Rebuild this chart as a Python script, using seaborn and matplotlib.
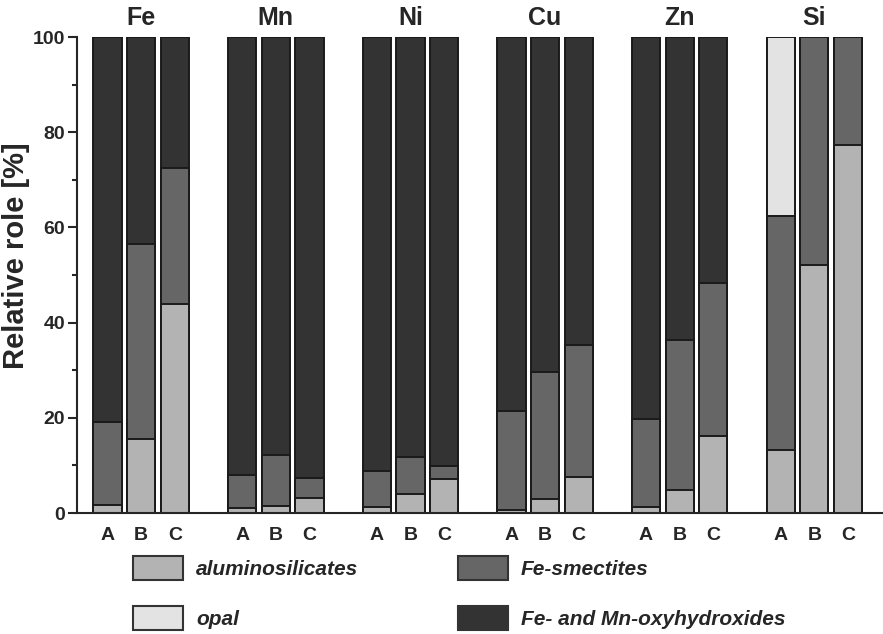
import numpy as np
import pandas as pd
import matplotlib
matplotlib.use('Agg')
import matplotlib.pyplot as plt
import seaborn as sns
from matplotlib.patches import Patch
from matplotlib.ticker import MultipleLocator

# Data (relative role in %)
elements = ['Fe', 'Mn', 'Ni', 'Cu', 'Zn', 'Si']
samples = ['A', 'B', 'C']
aluminosilicates = [1.7, 15.5, 44.0,  1.0, 1.5, 3.1,  1.3, 4.0, 7.1,
                    0.6, 2.9, 7.5,  1.3, 4.8, 16.2,  13.2, 52.2, 77.3]
fe_smectites = [17.4, 41.0, 28.5,  6.9, 10.7, 4.3,  7.6, 7.8, 2.8,
                20.9, 26.7, 27.7,  18.4, 31.5, 32.1,  49.3, 47.8, 22.7]
opal = [0, 0, 0,  0, 0, 0,  0, 0, 0,
        0, 0, 0,  0, 0, 0,  37.5, 0, 0]
oxyhydroxides = [80.9, 43.5, 27.5,  92.1, 87.8, 92.6,  91.1, 88.2, 90.1,
                 78.5, 70.4, 64.8,  80.3, 63.7, 51.7,  0, 0, 0]

colors = {'aluminosilicates': '#b3b3b3', 'opal': '#e3e3e3',
          'Fe-smectites': '#666666', 'Fe- and Mn-oxyhydroxides': '#333333'}

# Table with positions (each element group takes 4 slots: 3 bars + gap)
rows = []
for i, el in enumerate(elements):
    for j, s in enumerate(samples):
        k = i * 3 + j
        rows.append({'element': el, 'sample': s, 'pos': i * 4 + j,
                     'alu': aluminosilicates[k], 'sme': fe_smectites[k],
                     'opal': opal[k], 'oxy': oxyhydroxides[k]})
df = pd.DataFrame(rows)
df['c1'] = df['alu']
df['c2'] = df['c1'] + df['sme']
df['c3'] = df['c2'] + df['opal']
df['c4'] = df['c3'] + df['oxy']

sns.set_style('ticks')
plt.rcParams['font.family'] = ['Liberation Sans', 'DejaVu Sans']
plt.rcParams['font.weight'] = 'bold'

fig = plt.figure(figsize=(8.83, 6.34), dpi=100)
ax = fig.add_axes([77 / 883, 121 / 634, 806 / 883, 476 / 634])

edge = '#1a1a1a'
# stacked bars drawn as overlapping cumulative layers, tallest first
layers = [('c4', 'Fe- and Mn-oxyhydroxides'), ('c3', 'opal'),
          ('c2', 'Fe-smectites'), ('c1', 'aluminosilicates')]
for col, name in layers:
    sns.barplot(data=df, x='pos', y=col, native_scale=True, width=0.84,
                color=colors[name], saturation=1, edgecolor=edge,
                linewidth=1.4, errorbar=None, ax=ax)

ax.set_xlim(-0.905, 23.04)
ax.set_ylim(0, 100)
ax.set_xticks(df['pos'])
ax.set_xticklabels(df['sample'], fontsize=14, fontweight='bold')
ax.tick_params(axis='x', length=0, pad=10)
ax.yaxis.set_major_locator(MultipleLocator(20))
ax.yaxis.set_minor_locator(MultipleLocator(10))
ax.tick_params(axis='y', which='major', length=6.5, width=1.5, labelsize=14, pad=2)
ax.tick_params(axis='y', which='minor', length=3.5, width=1.5)
for lab in ax.get_yticklabels():
    lab.set_fontweight('bold')
ax.set_xlabel('')
ax.set_ylabel('Relative role [%]', fontsize=21, fontweight='bold')
ax.yaxis.set_label_coords(-0.058, 0.54)
sns.despine(ax=ax)
ax.spines['left'].set_linewidth(1.5)
ax.spines['bottom'].set_linewidth(1.5)

for i, el in enumerate(elements):
    ax.text(i * 4 + 1, 101.5, el, ha='center', va='bottom',
            fontsize=18, fontweight='bold')

handles = [Patch(facecolor=colors[n], edgecolor='#333333', linewidth=1.5, label=n)
           for n in ['aluminosilicates', 'opal', 'Fe-smectites', 'Fe- and Mn-oxyhydroxides']]
fig.legend(handles=handles, ncol=2, loc='upper left',
           bbox_to_anchor=(133 / 883, 1 - 556 / 634), frameon=False,
           prop={'size': 15, 'weight': 'bold', 'style': 'italic'},
           handlelength=2.4, handleheight=1.4, handletextpad=0.62,
           columnspacing=4.8, labelspacing=1.25, borderpad=0, borderaxespad=0)

plt.savefig('out.png', dpi=100)
